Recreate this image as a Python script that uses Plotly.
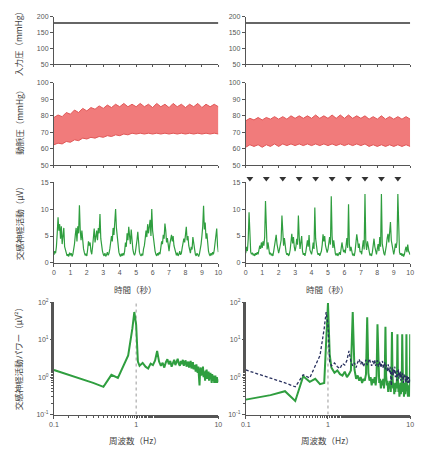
import numpy as np
import plotly.graph_objects as go

W, H = 423, 450

# ---------------- data ----------------
input_time = [0, 10]
input_left = [180, 180]
input_right = [180, 180]

# arterial pressure envelopes (0.25 s step)
ap_left_upper = [79, 80.5, 79.5, 82, 81, 83.5, 82, 84.5, 83, 85, 84, 86, 84.5, 86.5, 85, 87, 85.5, 87.5,
                 85.5, 87, 85.5, 87.5, 85.5, 87, 85, 87.5, 85.5, 87, 85, 87.5, 85.5, 87, 85, 87, 85.5,
                 87.5, 85, 87, 85.5, 87, 85.5]
ap_left_lower = [62.5, 63.5, 63, 64.5, 64, 65.5, 65, 66.5, 66, 67, 66.5, 67.5, 67, 68, 67.5, 68.5, 68,
                 69, 68.5, 69.5, 69, 69.5, 69, 69.5, 69, 69.5, 69, 69.5, 69, 69.5, 69, 69.5, 69, 69.5,
                 69, 69.5, 69, 69.5, 69, 69.5, 69]
ap_right_upper = [77, 78.5, 77.5, 79, 77.5, 79, 78, 79.5, 78, 79.5, 78, 80, 78.5, 80, 78.5, 80, 78.5,
                  80.5, 78.5, 80, 78.5, 80.5, 78.5, 80.5, 78.5, 80.5, 78.5, 80, 78.5, 80, 78, 79.5, 78,
                  80, 78, 79.5, 78, 79.5, 78, 79.5, 78]
ap_right_lower = [61, 62.5, 61.5, 62.5, 61, 62.5, 61.5, 63, 61.5, 63, 62, 63, 62, 63, 62, 63, 62, 63,
                  62, 63, 62, 63, 62, 63, 62, 63, 62, 63, 62, 63, 61.5, 62.5, 61.5, 62.5, 61.5, 62.5,
                  61.5, 62.5, 61.5, 62.5, 61.5]

# sympathetic nerve activity (0.05 s step)
sna_left = [
    1.5, 2.2, 1.8, 3.0, 5.5, 8.5, 6.0, 7.2, 4.5, 6.8, 3.5, 5.0, 6.5, 3.0, 2.2, 1.8, 1.3, 1.6, 1.2, 1.9,
    1.4, 1.8, 1.2, 1.6, 2.5, 3.5, 5.2, 6.5, 4.0, 6.8, 5.5, 10.7, 6.0, 4.2, 6.0, 3.5, 2.6, 1.9, 1.4, 1.7,
    1.3, 2.5, 4.0, 3.2, 3.8, 2.2, 1.6, 3.0, 4.5, 6.4, 3.8, 5.0, 6.0, 4.2, 6.5, 5.5, 9.1, 4.5, 3.0, 2.2,
    1.6, 1.3, 1.8, 1.2, 1.5, 2.0, 1.4, 1.8, 2.6, 3.5, 5.0, 4.0, 6.5, 5.2, 7.0, 10.0, 6.5, 4.5, 3.0, 2.0,
    1.5, 1.2, 1.7, 1.3, 1.8, 1.4, 2.2, 3.8, 3.0, 5.5, 4.2, 6.7, 5.0, 3.5, 6.2, 4.0, 2.5, 1.8, 1.4, 1.9,
    2.8, 4.2, 5.8, 3.5, 2.0, 1.5, 1.3, 1.7, 1.4, 2.6, 3.2, 4.5, 6.0, 4.8, 7.2, 5.5, 6.5, 8.0, 5.0, 10.0,
    6.0, 4.5, 3.0, 2.2, 1.6, 1.3, 1.8, 1.4, 2.0, 1.6, 2.8, 4.0, 3.5, 5.2, 4.5, 7.3, 6.0, 3.8, 4.6, 3.0,
    2.2, 3.5, 4.8, 5.2, 4.0, 5.0, 3.2, 2.4, 1.7, 1.4, 1.9, 1.3, 1.6, 2.2, 1.5, 1.8, 2.8, 3.6, 4.5, 3.8,
    5.5, 6.7, 4.2, 5.0, 3.2, 2.5, 1.8, 3.0, 2.5, 4.8, 3.5, 2.2, 1.6, 1.3, 1.8, 1.5, 1.2, 1.7, 2.4, 3.5,
    5.0, 6.8, 10.6, 6.2, 7.5, 4.5, 5.5, 3.2, 2.2, 1.6, 1.3, 1.8, 1.4, 2.0, 1.6, 2.4, 3.5, 4.8, 6.4, 3.2,
    2.0]
sna_right = [
    1.8, 3.0, 2.2, 4.5, 9.4, 3.5, 2.0, 1.6, 1.9, 1.4, 1.7, 1.3, 1.8, 1.5, 2.0, 1.6, 2.5, 3.2, 2.6, 3.8,
    2.8, 4.0, 3.2, 4.8, 11.5, 3.6, 2.5, 3.8, 2.0, 1.6, 1.9, 1.4, 1.7, 1.3, 2.2, 3.0, 4.5, 5.2, 3.5, 2.6,
    1.8, 2.5, 3.5, 4.2, 8.8, 5.0, 3.2, 4.6, 2.8, 2.0, 1.5, 1.8, 1.3, 1.6, 2.4, 4.0, 5.4, 3.6, 4.8, 3.0,
    2.2, 3.0, 4.5, 3.4, 8.8, 4.8, 2.6, 3.8, 5.0, 2.2, 1.5, 1.8, 1.3, 2.0, 2.8, 4.2, 3.0, 5.2, 2.4, 1.8,
    1.6, 2.4, 3.8, 2.6, 10.3, 4.5, 3.0, 2.0, 1.5, 1.8, 1.3, 1.6, 2.2, 3.4, 5.3, 4.0, 5.0, 3.2, 2.6, 1.9,
    2.5, 3.6, 4.8, 3.4, 12.4, 5.0, 2.8, 4.2, 2.4, 1.7, 1.4, 1.8, 1.3, 1.6, 2.0, 1.5, 2.6, 3.8, 2.8, 2.0,
    2.4, 1.8, 3.2, 4.6, 2.8, 10.9, 3.5, 2.2, 3.0, 1.8, 1.4, 1.7, 1.3, 2.2, 3.8, 5.3, 4.2, 2.8, 3.6, 2.0,
    2.2, 1.6, 3.0, 4.2, 2.5, 12.8, 3.8, 2.4, 4.0, 2.8, 1.8, 1.4, 1.7, 1.3, 2.0, 3.2, 4.5, 3.0, 2.2, 1.6,
    2.6, 3.5, 2.2, 4.8, 3.0, 12.8, 3.6, 2.4, 1.8, 1.4, 2.2, 3.2, 4.6, 5.4, 3.8, 6.0, 7.6, 4.2, 3.0, 2.0,
    1.6, 2.4, 3.6, 2.8, 4.0, 12.8, 3.0, 2.0, 1.5, 1.8, 1.3, 1.7, 1.2, 1.6, 2.4, 3.0, 2.0, 3.4, 2.2, 1.8,
    1.5]

stim_times = [0.25, 1.25, 2.25, 3.25, 4.25, 5.25, 6.25, 7.25, 8.25, 9.25]
stim_level = [15.7] * len(stim_times)

# power spectra
freq_low = [0.1, 0.2, 0.3, 0.4, 0.5, 0.6, 0.7, 0.8, 0.9, 0.95, 1.0, 1.05]
freq_high = [round(1.1 + 0.1 * i, 2) for i in range(90)]
freq = freq_low + freq_high

pow_left = [1.55, 0.95, 0.7, 0.55, 1.15, 0.95, 2.0, 3.8, 20, 55, 25, 2.6,
            2.0, 2.4, 1.9, 1.7, 2.3, 2.1, 2.8, 5.0, 2.6, 2.0,
            2.4, 1.8, 2.5, 3.0, 2.2, 2.7, 1.9, 2.4, 2.9, 2.1,
            2.6, 3.1, 2.3, 2.0, 2.7, 2.2, 2.9, 2.0, 2.5, 2.8,
            1.9, 2.4, 2.6, 1.8, 2.3, 2.7, 1.7, 2.2, 2.5, 1.6,
            2.1, 1.9, 1.4, 2.2, 1.7, 1.3, 1.9, 1.2, 0.6, 1.5,
            1.8, 1.1, 1.6, 1.3, 1.9, 1.0, 1.4, 1.2, 0.8, 1.5,
            1.1, 1.6, 0.9, 1.3, 1.0, 1.4, 0.8, 1.2, 1.0, 1.3,
            0.9, 1.1, 0.7, 1.2, 0.9, 1.0, 0.8, 1.1, 0.7, 1.0,
            0.8, 1.1, 0.7, 0.9, 0.8, 1.0, 0.7, 0.9, 0.75, 0.85]
pow_right = [0.25, 0.33, 0.42, 0.23, 1.05, 0.75, 0.9, 0.65, 0.7, 8, 95, 4,
             1.8, 1.3, 1.5, 1.2, 1.1, 1.4, 1.0, 1.2, 1.5, 55,
             1.6, 0.9, 1.1, 0.8, 1.0, 0.7, 0.9, 0.8, 1.2, 40,
             1.3, 0.8, 1.0, 0.6, 0.9, 0.7, 1.0, 0.6, 1.1, 26,
             1.2, 0.7, 0.9, 0.5, 0.8, 0.6, 0.9, 0.5, 1.0, 22,
             1.1, 0.6, 0.8, 0.4, 0.7, 0.5, 0.8, 0.4, 0.9, 16,
             1.0, 0.5, 0.7, 0.35, 0.6, 0.4, 0.7, 0.5, 0.9, 14,
             0.9, 0.4, 0.6, 0.3, 0.5, 0.7, 0.35, 0.6, 0.8, 14,
             0.8, 0.4, 0.6, 0.3, 0.5, 0.7, 0.35, 0.5, 0.8, 14,
             0.7, 0.4, 0.55, 0.3, 0.5, 0.6, 0.3, 0.5, 0.7, 14]

ylabels = ["入力圧（mmHg）", "動脈圧（mmHg）", "交感神経活動（μV）", "交感神経活動パワー（μV²）"]
xlabel_time = "時間（秒）"
xlabel_freq = "周波数（Hz）"

# ---------------- layout helpers ----------------
def px_x(p):
    return p / W

def px_y(p):
    return 1 - p / H

col_dom = [[px_x(50), px_x(218)], [px_x(246), px_x(414)]]
row_dom = [[px_y(61), px_y(13)], [px_y(164), px_y(80)], [px_y(263), px_y(181)], [px_y(417), px_y(303)]]

AX = "#555555"
TF = dict(family="Liberation Sans, Arial, sans-serif", size=7, color="#555555")
JP = "Noto Sans CJK JP"
GREEN = "#2f9e3f"
RED_FILL = "rgba(240,112,112,0.92)"
RED_LINE = "#e05656"

fig = go.Figure()

def ax_name(r, c):
    k = (r - 1) * 2 + c
    return ("x" if k == 1 else f"x{k}"), ("y" if k == 1 else f"y{k}"), k

def lin_t(arr):
    return np.linspace(0, 10, len(arr))

for c in (1, 2):
    # row 1
    xa, ya, k = ax_name(1, c)
    fig.add_trace(go.Scatter(x=input_time, y=input_left if c == 1 else input_right, mode="lines",
                             line=dict(color="#333333", width=1.5), xaxis=xa, yaxis=ya, showlegend=False))
    # row 2
    xa, ya, k = ax_name(2, c)
    up = ap_left_upper if c == 1 else ap_right_upper
    lo = ap_left_lower if c == 1 else ap_right_lower
    fig.add_trace(go.Scatter(x=lin_t(lo), y=lo, mode="lines", line=dict(color=RED_LINE, width=1),
                             xaxis=xa, yaxis=ya, showlegend=False))
    fig.add_trace(go.Scatter(x=lin_t(up), y=up, mode="lines", line=dict(color=RED_LINE, width=1),
                             fill="tonexty", fillcolor=RED_FILL, xaxis=xa, yaxis=ya, showlegend=False))
    # row 3
    xa, ya, k = ax_name(3, c)
    s = sna_left if c == 1 else sna_right
    fig.add_trace(go.Scatter(x=lin_t(s), y=s, mode="lines", line=dict(color=GREEN, width=1.2),
                             xaxis=xa, yaxis=ya, showlegend=False))
    # row 4
    xa, ya, k = ax_name(4, c)
    fig.add_trace(go.Scatter(x=[1, 1], y=[0.1, 100], mode="lines",
                             line=dict(color="#9a9a9a", width=1, dash="dot"),
                             xaxis=xa, yaxis=ya, showlegend=False))
    if c == 1:
        fig.add_trace(go.Scatter(x=freq, y=pow_left, mode="lines", line=dict(color=GREEN, width=2),
                                 xaxis=xa, yaxis=ya, showlegend=False))
    else:
        fig.add_trace(go.Scatter(x=freq, y=pow_right, mode="lines", line=dict(color=GREEN, width=2),
                                 xaxis=xa, yaxis=ya, showlegend=False))
        fig.add_trace(go.Scatter(x=freq, y=pow_left, mode="lines",
                                 line=dict(color="#28305e", width=1.3, dash="3px,2px"),
                                 xaxis=xa, yaxis=ya, showlegend=False))

# stimulus markers on their own hidden axes (same scale as row-3 right, taller domain)
fig.add_trace(go.Scatter(x=stim_times, y=stim_level, mode="markers",
                         marker=dict(symbol="triangle-down", size=6, color="#333333"),
                         xaxis="x9", yaxis="y9", showlegend=False))

base_axis = dict(showline=True, linecolor=AX, linewidth=1, ticks="outside", ticklen=3, tickcolor=AX,
                 tickwidth=1, tickfont=TF, showgrid=False, zeroline=False)

layout = {}
for r in (1, 2, 3, 4):
    for c in (1, 2):
        xa, ya, k = ax_name(r, c)
        xkey = "xaxis" if k == 1 else f"xaxis{k}"
        ykey = "yaxis" if k == 1 else f"yaxis{k}"
        xd = dict(base_axis, domain=col_dom[c - 1], anchor=ya)
        yd = dict(base_axis, domain=row_dom[r - 1], anchor=xa)
        if r in (1, 2, 3):
            xd.update(range=[0, 10], tickmode="linear", tick0=0, dtick=1, showticklabels=(r == 3),
                      ticklen=2 if r < 3 else 3)
        if r == 1:
            yd.update(range=[50, 200], tickvals=[50, 100, 150, 200])
        elif r == 2:
            yd.update(range=[50, 100], tickvals=[50, 60, 70, 80, 90, 100])
        elif r == 3:
            yd.update(range=[0, 15], tickvals=[0, 5, 10, 15])
        else:
            xd.update(type="log", range=[-1, 1], tickvals=[0.1, 1, 10], ticktext=["0.1", "1", "10"],
                      ticklen=3, minor=dict(ticks="outside", ticklen=2, tickcolor=AX, showgrid=False))
            yd.update(type="log", range=[-1, 2], tickvals=[0.1, 1, 10, 100],
                      ticktext=["10<sup>-1</sup>", "10<sup>0</sup>", "10<sup>1</sup>", "10<sup>2</sup>"],
                      minor=dict(ticks="outside", ticklen=2, tickcolor=AX, showgrid=False))
        layout[xkey] = xd
        layout[ykey] = yd

# hidden axes for triangles: 0 at 263px, 15 at 181px -> extend top to 170px
top_val = 15 * (263 - 170) / (263 - 181)
layout["xaxis9"] = dict(domain=col_dom[1], range=[0, 10], visible=False, anchor="y9")
layout["yaxis9"] = dict(domain=[px_y(263), px_y(170)], range=[0, top_val], visible=False, anchor="x9")

annotations = []
label_y = [38, 118, 221, 358]
for i, txt in enumerate(ylabels):
    annotations.append(dict(text=txt, x=px_x(14), y=px_y(label_y[i]), xref="paper", yref="paper",
                            textangle=-90, showarrow=False, xanchor="center", yanchor="middle",
                            font=dict(family=JP, size=8.5, color="#444444")))
for cx in (133, 330):
    annotations.append(dict(text=xlabel_time, x=px_x(cx), y=px_y(290), xref="paper", yref="paper",
                            showarrow=False, xanchor="center", yanchor="middle",
                            font=dict(family=JP, size=8.5, color="#444444")))
    annotations.append(dict(text=xlabel_freq, x=px_x(cx), y=px_y(443), xref="paper", yref="paper",
                            showarrow=False, xanchor="center", yanchor="middle",
                            font=dict(family=JP, size=8.5, color="#444444")))

fig.update_layout(width=W, height=H, margin=dict(l=0, r=0, t=0, b=0), paper_bgcolor="white",
                  plot_bgcolor="rgba(0,0,0,0)", annotations=annotations, **layout)

fig.write_html("out.html")
